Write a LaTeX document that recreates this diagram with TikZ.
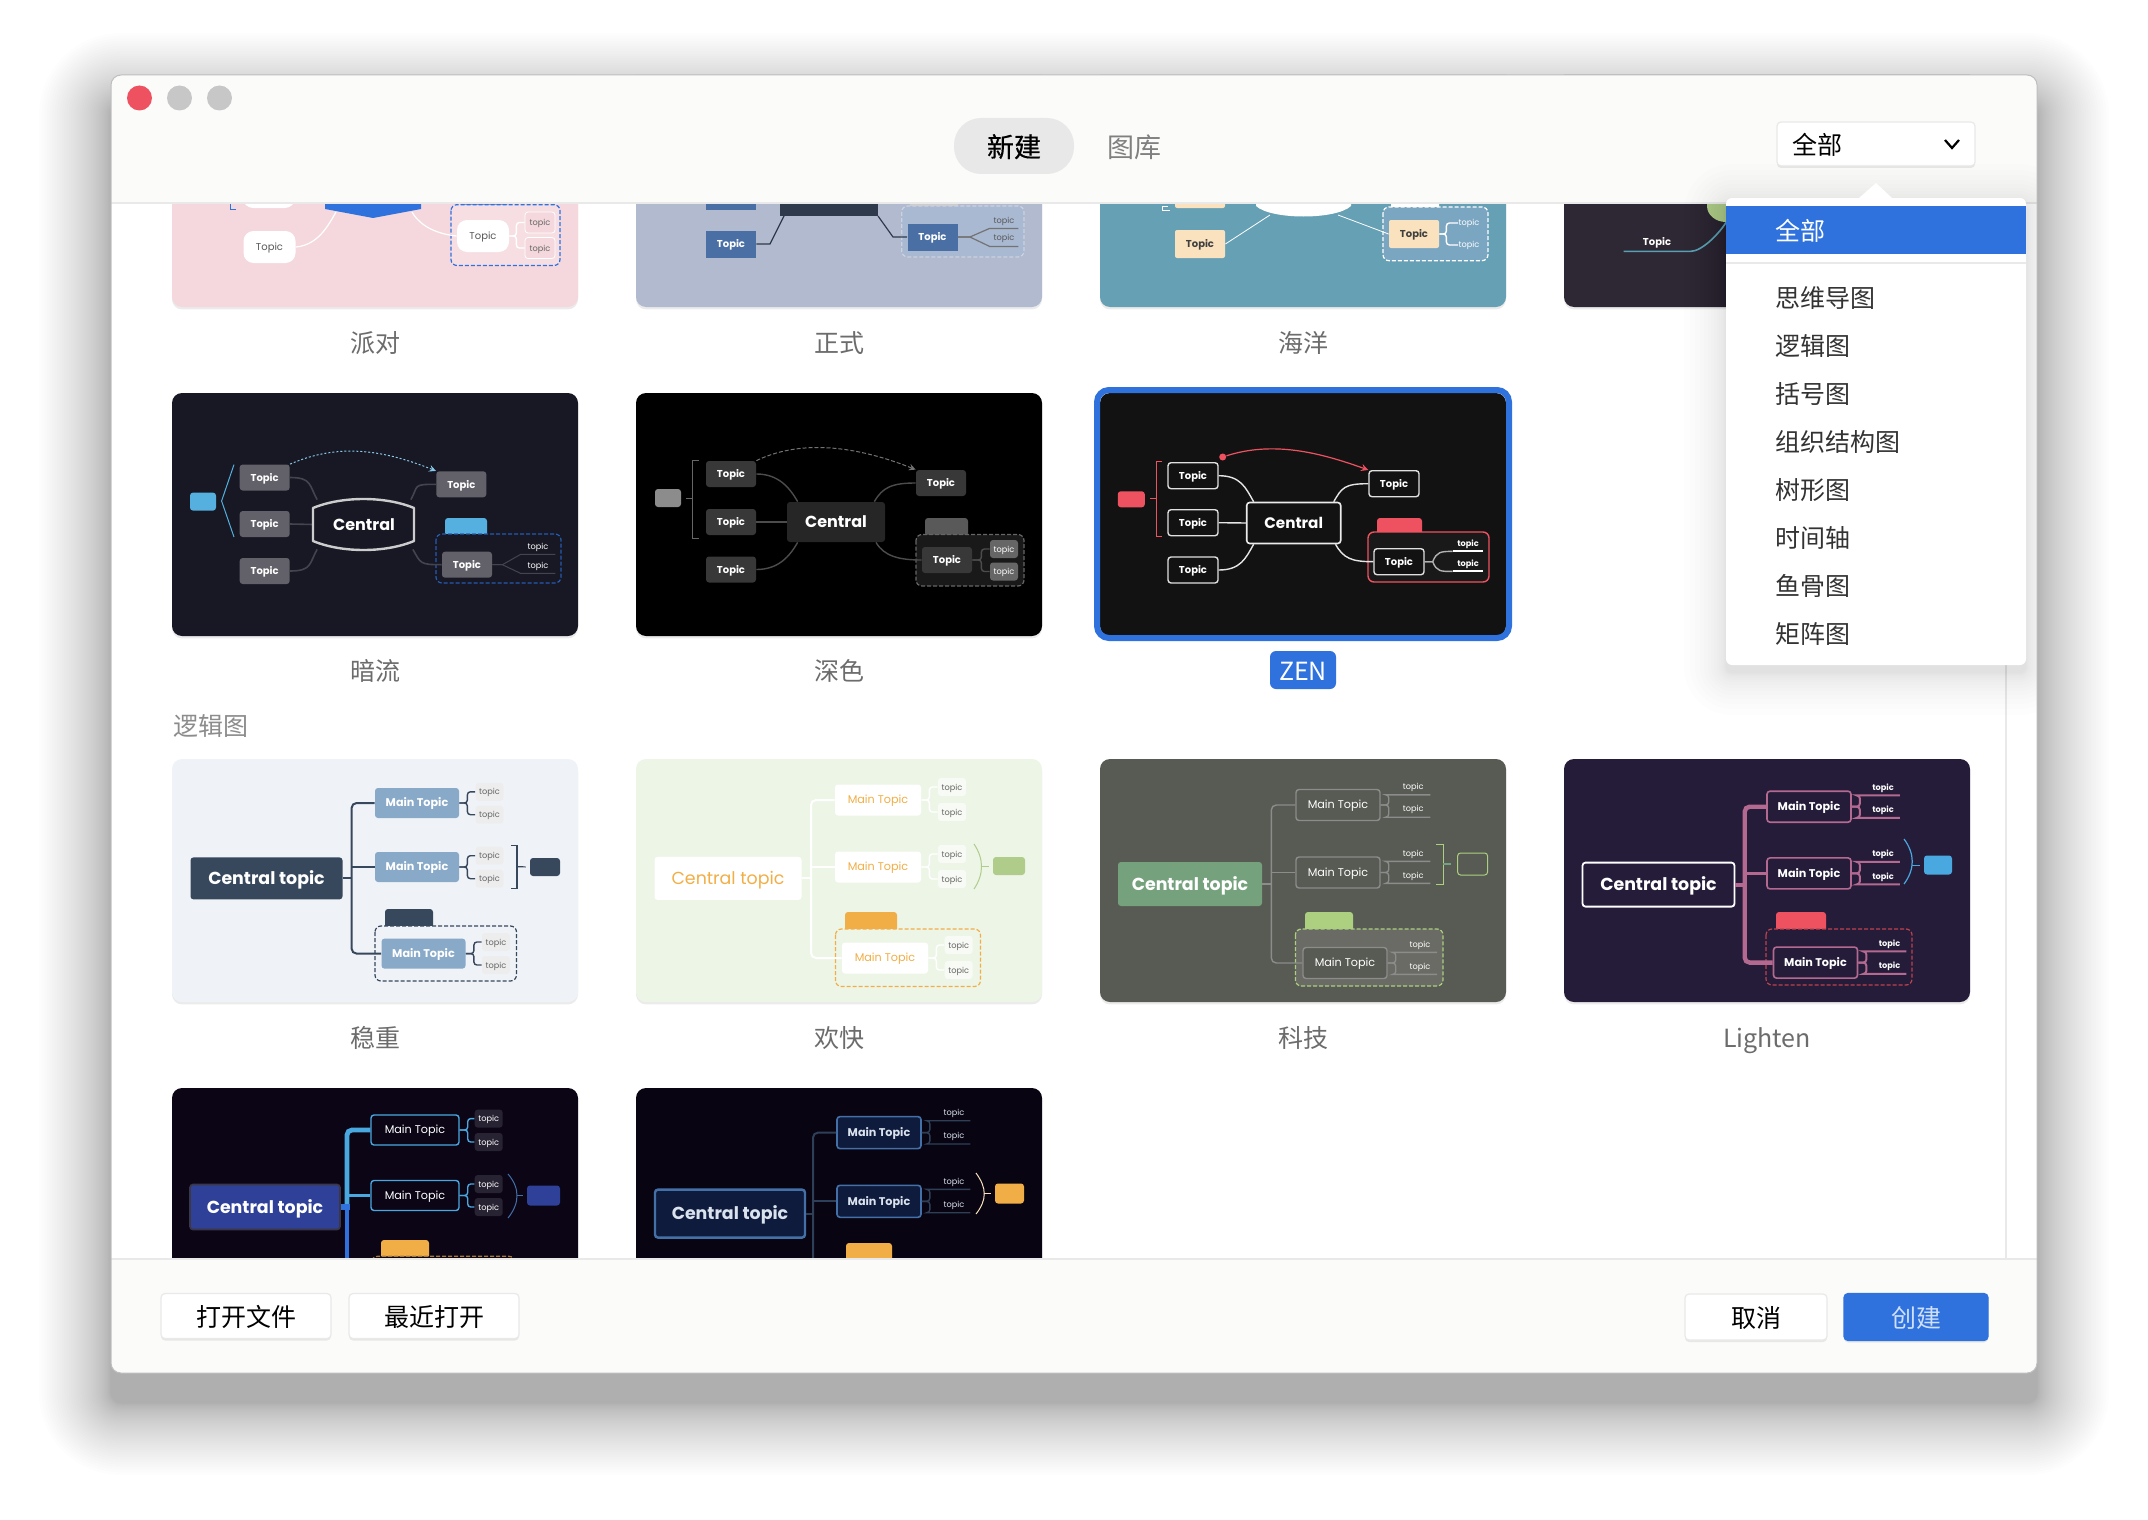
\documentclass[tikz,border=0pt]{standalone}
\usepackage{fontspec}
\setmainfont{Noto Sans CJK SC}
\newfontfamily\tabfont[FakeBold=0.5]{Noto Sans CJK SC}
\newfontfamily\thumbfont{Poppins}
\usetikzlibrary{arrows}
\usetikzlibrary{shapes}
\usetikzlibrary{shadows}
\definecolor{uiBlue}{HTML}{2F72DE}
\definecolor{uiBar}{HTML}{FBFBFA}
\definecolor{uiLine}{HTML}{E9E9E9}
\definecolor{uiCap}{HTML}{6C6C6C}
\definecolor{partyBg}{HTML}{F4D8DD}
\definecolor{formalBg}{HTML}{B1BACE}
\definecolor{formalBlue}{HTML}{4A6FA5}
\definecolor{formalDark}{HTML}{2F3A4C}
\definecolor{formalZone}{HTML}{A9B9D2}
\definecolor{oceanBg}{HTML}{66A0B4}
\definecolor{oceanTopic}{HTML}{F9E2BD}
\definecolor{oceanZone}{HTML}{7BA6C2}
\definecolor{briefBg}{HTML}{2D2833}
\definecolor{briefLine}{HTML}{5AA0B5}
\definecolor{flowBg}{HTML}{171824}
\definecolor{flowTopic}{HTML}{626169}
\definecolor{flowBlue}{HTML}{55B0E0}
\definecolor{zenBg}{HTML}{121212}
\definecolor{zenRed}{HTML}{EE5260}
\definecolor{steadyBg}{HTML}{EFF3F8}
\definecolor{steadyDark}{HTML}{37475C}
\definecolor{steadyMain}{HTML}{88A9C7}
\definecolor{happyBg}{HTML}{EDF5E7}
\definecolor{happyOrange}{HTML}{F2AE46}
\definecolor{happyGreen}{HTML}{B0CC8A}
\definecolor{techBg}{HTML}{585B53}
\definecolor{techGreen}{HTML}{75A27D}
\definecolor{techLine}{HTML}{8C8C8C}
\definecolor{techLime}{HTML}{ADD080}
\definecolor{lightenBg}{HTML}{251C3A}
\definecolor{lightenPink}{HTML}{B46A90}
\definecolor{nightBg}{HTML}{0B0516}
\definecolor{nightBlue}{HTML}{2F4098}
\definecolor{nightSky}{HTML}{4AA8E0}
\definecolor{navyFill}{HTML}{0F1B3D}
\definecolor{navyLine}{HTML}{4470A8}
\definecolor{navyLink}{HTML}{2D4058}

\begin{document}
\begin{tikzpicture}[x=0.5pt, y=-0.5pt, font=\fontsize{12.5}{15}\selectfont]
	\tikzstyle{cardStyle}=[rounded corners=5pt, drop shadow={shadow xshift=0pt, shadow yshift=-1.2pt, fill=black, opacity=.08}]
	\tikzstyle{centralStyle}=[shape = rectangle, rounded corners=1.5pt, inner sep = 0pt, minimum width = 76pt, minimum height = 21pt, text height=6.6pt, text depth=.3pt, font=\thumbfont\bfseries\fontsize{8.7}{10}\selectfont]
	\tikzstyle{hubStyle}=[centralStyle, text height=6.2pt, text depth=.3pt, font=\thumbfont\bfseries\fontsize{8}{9}\selectfont]
	\tikzstyle{topicStyle}=[shape = rectangle, rounded corners=1.5pt, inner sep = 0pt, minimum width = 25pt, minimum height = 13pt, text height=4pt, text depth=.3pt, font=\thumbfont\bfseries\fontsize{5}{6}\selectfont]
	\tikzstyle{mainStyle}=[shape = rectangle, rounded corners=1.5pt, inner sep = 0pt, minimum width = 42pt, minimum height = 15pt, text height=4.2pt, text depth=.3pt, font=\thumbfont\bfseries\fontsize{5.6}{6}\selectfont]
	\tikzstyle{subStyle}=[shape = rectangle, rounded corners=1.5pt, inner sep = 0pt, minimum width = 14pt, minimum height = 9pt, text height=3.2pt, text depth=.2pt, font=\thumbfont\fontsize{4.1}{5}\selectfont]
	\tikzstyle{tagStyle}=[shape = rectangle, rounded corners=1.5pt, inner sep = 0pt, minimum width = 13pt, minimum height = 9pt]
	\tikzstyle{calloutStyle}=[shape = rectangle, rounded corners=1.5pt, inner sep = 0pt, minimum width = 24pt, minimum height = 11pt]
	\tikzstyle{linkStyle}=[line width = 1pt, rounded corners=2.5pt]
	\tikzstyle{forkStyle}=[line width = .7pt, rounded corners=1.5pt]
	\tikzstyle{boundaryStyle}=[line width = .6pt, dash pattern=on 2pt off 1pt, rounded corners=3pt]
	\tikzstyle{buttonStyle}=[shape = rectangle, rounded corners=2pt, inner sep = 0pt, text height=11pt, text depth=1pt, fill=white, draw=uiLine, line width=.6pt, drop shadow={shadow xshift=0pt, shadow yshift=-1pt, fill=black, opacity=.08}]
	\tikzstyle{captionStyle}=[inner sep = 0pt, text height=11pt, text depth=1pt, text=uiCap]
	\tikzstyle{menuStyle}=[inner sep = 0pt, text height=11pt, text depth=1pt, anchor=west, text=black!80]
	\useasboundingbox (0,0) rectangle (2148,1520);
	\fill[white] (0,0) rectangle (2148,1520);
	\foreach \i [evaluate=\i as \r using 72*(\i/40)^1.5, evaluate=\i as \rr using 5+36*(\i/40)^1.5] in {1,...,40}
		\fill[black, opacity=.009, rounded corners=\rr pt] ({111-\r},{105-\r}) rectangle ({2037+\r},{1403+\r});
	\begin{scope}
	\clip[rounded corners=5pt] (111,75) rectangle (2037,1373);
	\fill[white] (111,75) rectangle (2037,1373);
	\draw[uiLine, line width=.6pt] (2006,203) -- (2006,1259);

	% row of mind maps behind the title bar
	\begin{scope}[shift={(172,64)}, name prefix=party-]
		\tikzstyle{topicStyle}=[shape = rectangle, rounded corners=5pt, inner sep = 0pt, minimum width = 26pt, minimum height = 16pt, text height=4pt, text depth=.3pt, fill=white, text=black!65, font=\thumbfont\fontsize{5}{6}\selectfont]
		\fill[cardStyle, fill=partyBg] (0,0) rectangle (406,243);
		\draw[uiBlue, line width=.5pt] (64,70) -- (58,70) -- (58,145) -- (64,145);
		\node[calloutStyle, fill=uiBlue] (call) at (312,131) {};
		\draw[boundaryStyle, draw=uiBlue, fill=partyBg!85!white] (279,140.7) rectangle (388,201.5);
		\node[topicStyle] (t1) at (97,128) {};
		\node[topicStyle] (t3) at (97.5,183) {Topic};
		\node[topicStyle] (r2) at (311,172) {Topic};
		\node[subStyle, draw=white, fill=partyBg, text=black!60, minimum width=15pt, minimum height=10.5pt] (s1) at (368,158.5) {topic};
		\node[subStyle, draw=white, fill=partyBg, text=black!60, minimum width=15pt, minimum height=10.5pt] (s2) at (368,184) {topic};
		\fill[uiBlue] (153,130) -- (249,130) -- (249,145) -- (201,154) -- (153,145) -- cycle;
		\coordinate (cl) at (164,148);
		\coordinate (cr) at (240,148);
		\draw[white, line width=.6pt] (t3.east) .. controls +(22,-2) and +(-8,14) .. (cl);
		\draw[white, line width=.6pt] (cr) .. controls +(8,14) and +(-20,-2) .. (r2.west);
		\draw[white, forkStyle] (r2.east) -- ++(7,0) |- (s1.west);
		\draw[white, forkStyle] (r2.east) -- ++(7,0) |- (s2.west);
	\end{scope}
	\begin{scope}[shift={(636,64)}, name prefix=formal-]
		\tikzstyle{topicStyle}=[shape = rectangle, inner sep = 0pt, minimum width = 25pt, minimum height = 13.5pt, text height=4pt, text depth=.3pt, fill=formalBlue, text=white, font=\thumbfont\bfseries\fontsize{5}{6}\selectfont]
		\fill[cardStyle, fill=formalBg] (0,0) rectangle (406,243);
		\node[calloutStyle, fill=black!20] (call) at (298,135) {};
		\draw[boundaryStyle, draw=white!35!formalBg, fill=formalZone] (265.7,142) rectangle (388,193);
		\node[topicStyle] (t1) at (95,132) {};
		\node[topicStyle] (t3) at (95,180) {Topic};
		\node[topicStyle] (r2) at (296.5,173) {Topic};
		\node[subStyle, text=black!65, minimum width=14pt, minimum height=8pt] (s1) at (368,156) {topic};
		\node[subStyle, text=black!65, minimum width=14pt, minimum height=8pt] (s2) at (368,174) {topic};
		\fill[formalDark] (144,130) rectangle (242,152);
		\coordinate (cl) at (148,152);
		\coordinate (cr) at (242,152);
		\draw[formalDark, line width=.6pt] (t3.east) -- (134,180) -- (cl);
		\draw[formalDark, line width=.6pt] (cr) -- (257,173) -- (r2.west);
		\draw[black!55, line width=.6pt] (r2.east) -- ++(12,0) -- (s1.south west) -- (s1.south east);
		\draw[black!55, line width=.6pt] (r2.east) -- ++(12,0) -- (s2.south west) -- (s2.south east);
	\end{scope}
	\begin{scope}[shift={(1100,64)}, name prefix=ocean-]
		\tikzstyle{topicStyle}=[shape = rectangle, rounded corners=1pt, inner sep = 0pt, minimum width = 25pt, minimum height = 14pt, text height=4pt, text depth=.3pt, fill=oceanTopic, text=black!75, font=\thumbfont\bfseries\fontsize{5}{6}\selectfont]
		\fill[cardStyle, fill=oceanBg] (0,0) rectangle (406,243);
		\draw[white, line width=.5pt] (68,142) -- (62,142) -- (62,146) -- (70,146);
		\node[calloutStyle, fill=white] (call) at (315,135) {};
		\draw[boundaryStyle, draw=white, fill=oceanZone] (283,143) rectangle (388,196.7);
		\node[topicStyle] (t1) at (100,130) {};
		\node[topicStyle] (t3) at (100,180) {Topic};
		\node[topicStyle] (r2) at (314,170) {Topic};
		\node[subStyle, text=white, minimum width=10pt] (s1) at (369,159) {topic};
		\node[subStyle, text=white, minimum width=10pt] (s2) at (369,181) {topic};
		\fill[white] (156,125) -- (251,125) -- (251,142) .. controls (236,156) and (171,156) .. (156,142) -- cycle;
		\coordinate (cl) at (170,151);
		\coordinate (cr) at (238,151);
		\draw[white, line width=.4pt] (t3.east) -- (cl);
		\draw[white, line width=.4pt] (cr) -- (r2.west);
		\draw[white, forkStyle] (r2.east) -- ++(7,0) |- (s1.west);
		\draw[white, forkStyle] (r2.east) -- ++(7,0) |- (s2.west);
	\end{scope}
	\begin{scope}[shift={(1564,64)}, name prefix=brief-]
		\fill[cardStyle, fill=briefBg] (0,0) rectangle (406,243);
		\node[subStyle, text=white, text height=4pt, font=\thumbfont\bfseries\fontsize{5}{6}\selectfont, minimum width=33pt] (t3) at (93,178) {Topic};
		\node[shape = ellipse, inner sep = 0pt, fill=happyGreen, minimum width=19pt, minimum height=16pt] (c) at (162,142) {};
		\draw[briefLine, line width=.8pt] (t3.south west) -- (t3.south east) .. controls +(12,0) and +(-6,10) .. (c.south);
	\end{scope}

	% second row
	\begin{scope}[shift={(172,393)}, name prefix=flow-, topicStyle/.append style={fill=flowTopic, text=white}, subStyle/.append style={text=white, minimum width=17pt, minimum height=8pt}]
		\fill[cardStyle, fill=flowBg] (0,0) rectangle (406,243);
		\node[tagStyle, fill=flowBlue] (tag) at (31,108.6) {};
		\draw[flowBlue, line width=.5pt] (62,71.6) -- (49.6,108) -- (62,144);
		\node[topicStyle] (t1) at (92.7,84.5) {Topic};
		\node[topicStyle] (t2) at (92.7,131) {Topic};
		\node[topicStyle] (t3) at (92.7,178) {Topic};
		\node[hubStyle, text=white, minimum width=50.5pt, minimum height=24.5pt] (c) at (192,131.5) {};
		\node[topicStyle] (r1) at (289.3,91.3) {Topic};
		\node[calloutStyle, fill=flowBlue, minimum width=21pt, minimum height=9pt] (call) at (294,134) {};
		\draw[boundaryStyle, draw=uiBlue!80!black, fill=flowBg] (264,141) rectangle (389,190);
		\node[topicStyle] (r2) at (295,171.7) {Topic};
		\node[subStyle] (s1) at (366,153) {topic};
		\node[subStyle] (s2) at (366,172) {topic};
		\draw[flowTopic!60!flowBg, line width=.8pt] (t1.east) .. controls +(22,0) and +(-8,-14) .. (c.152);
		\draw[flowTopic!60!flowBg, line width=.8pt] (t2.east) -- (c.west);
		\draw[flowTopic!60!flowBg, line width=.8pt] (t3.east) .. controls +(22,0) and +(-8,14) .. (c.208);
		\draw[flowTopic!60!flowBg, line width=.8pt] (c.28) .. controls +(8,-14) and +(-24,0) .. (r1.west);
		\draw[flowTopic!60!flowBg, line width=.8pt] (c.-27) .. controls +(8,14) and +(-22,0) .. (r2.west);
		\draw[flowTopic!60!flowBg, line width=.5pt] (r2.east) -- ++(10,0) -- (s1.south west) -- (s1.south east);
		\draw[flowTopic!60!flowBg, line width=.5pt] (r2.east) -- ++(10,0) -- (s2.south west) -- (s2.south east);
		\draw[black!20, fill=flowBg, line width=1.2pt, line join=round] (141,115) .. controls (170,103) and (213,103) .. (242,115) -- (242,148) .. controls (213,160) and (170,160) .. (141,148) -- cycle;
		\node[hubStyle, text=white, minimum width=0pt, minimum height=0pt] (ctext) at (192,131.5) {Central};
		\draw[flowBlue!70!white, line width=.5pt, dash pattern=on 1pt off 1pt, -stealth] (t1.north east) .. controls +(50,-22) and +(-50,-20) .. (r1.north west);
	\end{scope}
	\begin{scope}[shift={(636,393)}, name prefix=deep-, topicStyle/.append style={fill=black!78, text=white}, subStyle/.append style={fill=black!60, text=white}]
		\fill[cardStyle, fill=black] (0,0) rectangle (406,243);
		\node[tagStyle, fill=black!45] (tag) at (32,105) {};
		\draw[black!60, line width=.5pt] (63,67) -- (56,67) -- (56,145) -- (63,145);
		\draw[black!60, line width=.5pt] (56,105) -- (50,105);
		\node[topicStyle] (t1) at (95,81) {Topic};
		\node[topicStyle] (t2) at (95,129) {Topic};
		\node[topicStyle] (t3) at (95,176.5) {Topic};
		\node[hubStyle, fill=black!85, text=white, minimum width=49pt, minimum height=20pt] (c) at (200,129) {Central};
		\node[topicStyle] (r1) at (305,90) {Topic};
		\node[calloutStyle, fill=black!65, minimum width=21.5pt, minimum height=9pt] (call) at (310.5,134) {};
		\draw[boundaryStyle, draw=black!60, fill=black!90] (280,141.5) rectangle (388,193);
		\node[topicStyle] (r2) at (311,167) {Topic};
		\node[subStyle] (s1) at (368,156) {topic};
		\node[subStyle] (s2) at (368,178.5) {topic};
		\draw[black!70, line width=.7pt] (t1.east) .. controls +(22,0) and +(-8,-14) .. (c.152);
		\draw[black!70, line width=.7pt] (t2.east) -- (c.west);
		\draw[black!70, line width=.7pt] (t3.east) .. controls +(22,0) and +(-8,14) .. (c.208);
		\draw[black!70, line width=.7pt] (c.28) .. controls +(8,-14) and +(-24,0) .. (r1.west);
		\draw[black!70, line width=.7pt] (c.-27) .. controls +(8,14) and +(-22,0) .. (r2.west);
		\draw[black!70, forkStyle] (r2.east) -- ++(9,0) |- (s1.west);
		\draw[black!70, forkStyle] (r2.east) -- ++(9,0) |- (s2.west);
		\draw[black!55, line width=.5pt, dash pattern=on 2pt off 1pt, -stealth] (t1.north east) .. controls +(50,-24) and +(-50,-20) .. (r1.north west);
	\end{scope}
	\begin{scope}[shift={(1100,393)}, name prefix=zen-, topicStyle/.append style={fill=zenBg, draw=black!12, line width=.7pt, text=white}, subStyle/.append style={text=white, font=\thumbfont\bfseries\fontsize{4.1}{5}\selectfont, minimum width=15pt, minimum height=8pt}]
		\fill[cardStyle, fill=zenBg] (0,0) rectangle (406,243);
		\draw[uiBlue, line width=3pt, rounded corners=6pt] (-3,-3) rectangle (409,245);
		\node[tagStyle, fill=zenRed, minimum width=13.5pt, minimum height=8pt] (tag) at (31.3,106.3) {};
		\draw[zenRed, line width=.5pt] (62,68) -- (56,68) -- (56,143) -- (62,143);
		\draw[zenRed, line width=.5pt] (56,105.7) -- (50,105.7);
		\node[topicStyle] (t1) at (93,82.7) {Topic};
		\node[topicStyle] (t2) at (93,129.7) {Topic};
		\node[topicStyle] (t3) at (93,177) {Topic};
		\node[hubStyle, fill=zenBg, draw=black!8, line width=.8pt, text=white, minimum width=47pt, minimum height=20.5pt, font=\thumbfont\bfseries\fontsize{7.6}{9}\selectfont] (c) at (193.7,130) {Central};
		\node[topicStyle] (r1) at (294,90.7) {Topic};
		\node[calloutStyle, fill=zenRed, minimum width=22.5pt, minimum height=9pt] (call) at (299.5,134) {};
		\draw[zenRed, line width=.7pt, rounded corners=3pt, fill=black!90] (268,139) rectangle (389,189);
		\node[topicStyle] (r2) at (299,168.7) {Topic};
		\node[subStyle] (s1) at (368,150) {topic};
		\node[subStyle] (s2) at (368,170) {topic};
		\draw[black!10, line width=.7pt] (t1.east) .. controls +(22,0) and +(-8,-14) .. (c.152);
		\draw[black!10, line width=.7pt] (t2.east) -- (c.west);
		\draw[black!10, line width=.7pt] (t3.east) .. controls +(22,0) and +(-8,14) .. (c.208);
		\draw[black!10, line width=.7pt] (c.28) .. controls +(8,-14) and +(-24,0) .. (r1.west);
		\draw[black!10, line width=.7pt] (c.-27) .. controls +(8,14) and +(-22,0) .. (r2.west);
		\draw[black!30, line width=.7pt] (r2.east) -- ++(8,0) .. controls +(4,-10) and +(-12,0) .. (s1.south west);
		\draw[black!30, line width=.7pt] (r2.east) -- ++(8,0) .. controls +(4,10) and +(-12,0) .. (s2.south west);
		\draw[white, line width=1pt] (s1.south west) -- (s1.south east);
		\draw[white, line width=1pt] (s2.south west) -- (s2.south east);
		\node[circle, fill=zenRed, inner sep=0pt, minimum size=3.5pt] (relDot) at (122.7,64) {};
		\draw[zenRed, line width=.6pt, -stealth] (relDot) .. controls +(50,-16) and +(-50,-18) .. (r1.north west);
	\end{scope}

	% logic charts
	\begin{scope}[shift={(172,759)}, name prefix=steady-, mainStyle/.append style={fill=steadyMain, text=white}, subStyle/.append style={fill=black!7, text=black!60}, linkStyle/.append style={draw=steadyDark}, forkStyle/.append style={draw=steadyDark}]
		\fill[cardStyle, fill=steadyBg] (0,0) rectangle (406,243);
		\node[centralStyle, fill=steadyDark, text=white] (c) at (94.5,119.4) {Central topic};
		\node[mainStyle] (m1) at (245,44) {Main Topic};
		\node[mainStyle] (m2) at (245,108) {Main Topic};
		\node[calloutStyle, fill=steadyDark] (call) at (237,161) {};
		\draw[boundaryStyle, draw=steadyDark, fill=steadyBg] (203,167) rectangle (344.5,222);
		\node[mainStyle] (m3) at (251.5,194.6) {Main Topic};
		\node[subStyle] (s1) at (317.5,32.8) {topic};
		\node[subStyle] (s2) at (317.5,55.7) {topic};
		\node[subStyle] (s3) at (317.5,96.7) {topic};
		\node[subStyle] (s4) at (317.5,119.7) {topic};
		\node[subStyle] (s5) at (324,183) {topic};
		\node[subStyle] (s6) at (324,206) {topic};
		\node[tagStyle, fill=steadyDark, minimum width=15pt] (tag) at (373,108) {};
		\coordinate (trunk) at (179.6,0);
		\draw[linkStyle] (c.east) -- (trunk |- c.east);
		\draw[linkStyle] (m1.west) -| (trunk |- m2.west) |- (m3.west);
		\draw[linkStyle] (m2.west) -- (trunk |- m2.west);
		\draw[forkStyle] (m1.east) -- ++(8,0) |- (s1.west);
		\draw[forkStyle] (m1.east) -- ++(8,0) |- (s2.west);
		\draw[forkStyle] (m2.east) -- ++(8,0) |- (s3.west);
		\draw[forkStyle] (m2.east) -- ++(8,0) |- (s4.west);
		\draw[forkStyle] (m3.east) -- ++(8,0) |- (s5.west);
		\draw[forkStyle] (m3.east) -- ++(8,0) |- (s6.west);
		\draw[steadyDark, line width=.6pt] (339,86.3) -- (345,86.3) -- (345,129.4) -- (339,129.4);
		\draw[steadyDark, line width=.6pt, shorten <=2pt] (tag.west) -- (345,107.7);
	\end{scope}
	\begin{scope}[shift={(636,759)}, name prefix=happy-, mainStyle/.append style={fill=white, text=happyOrange, font=\thumbfont\fontsize{5.6}{6}\selectfont, minimum width=43pt, minimum height=15.5pt}, subStyle/.append style={fill=white!60!happyBg, text=black!60}, linkStyle/.append style={draw=white}, forkStyle/.append style={draw=white}]
		\fill[cardStyle, fill=happyBg] (0,0) rectangle (406,243);
		\node[centralStyle, fill=white, text=happyOrange, font=\thumbfont\fontsize{8.7}{10}\selectfont, minimum width=73.5pt, minimum height=21.5pt] (c) at (92,119.4) {Central topic};
		\node[mainStyle] (m1) at (242,41) {Main Topic};
		\node[mainStyle] (m2) at (242,108) {Main Topic};
		\node[calloutStyle, fill=happyOrange, minimum width=26pt] (call) at (235,164) {};
		\draw[boundaryStyle, draw=happyOrange, fill=happyBg] (199.5,170) rectangle (344.5,227.5);
		\node[mainStyle] (m3) at (249,199) {Main Topic};
		\node[subStyle] (s1) at (316,28) {topic};
		\node[subStyle] (s2) at (316,53) {topic};
		\node[subStyle] (s3) at (316,95) {topic};
		\node[subStyle] (s4) at (316,120) {topic};
		\node[subStyle] (s5) at (322.7,186) {topic};
		\node[subStyle] (s6) at (322.7,211) {topic};
		\node[tagStyle, fill=happyGreen, minimum width=16pt] (tag) at (373,107) {};
		\coordinate (trunk) at (175,0);
		\draw[linkStyle] (c.east) -- (trunk |- c.east);
		\draw[linkStyle] (m1.west) -| (trunk |- m2.west) |- (m3.west);
		\draw[linkStyle] (m2.west) -- (trunk |- m2.west);
		\draw[forkStyle] (m1.east) -- ++(8,0) |- (s1.west);
		\draw[forkStyle] (m1.east) -- ++(8,0) |- (s2.west);
		\draw[forkStyle] (m2.east) -- ++(8,0) |- (s3.west);
		\draw[forkStyle] (m2.east) -- ++(8,0) |- (s4.west);
		\draw[forkStyle] (m3.east) -- ++(8,0) |- (s5.west);
		\draw[forkStyle] (m3.east) -- ++(8,0) |- (s6.west);
		\draw[happyGreen, line width=.5pt] (338,85) .. controls (348,100) and (348,115) .. (338,130);
		\draw[happyGreen, line width=.5pt, shorten <=2pt] (tag.west) -- (345.5,107);
	\end{scope}
	\begin{scope}[shift={(1100,759)}, name prefix=tech-, mainStyle/.append style={fill=techBg, draw=techLine, line width=.7pt, text=white, font=\thumbfont\fontsize{5.6}{6}\selectfont, minimum height=15.5pt}, subStyle/.append style={text=white, minimum width=20.5pt, minimum height=8pt, execute at begin node=\hspace*{3.8pt}}, linkStyle/.append style={draw=techLine, line width=.7pt}, forkStyle/.append style={draw=techLine}]
		\fill[cardStyle, fill=techBg] (0,0) rectangle (406,243);
		\node[centralStyle, fill=techGreen, text=white, minimum width=72pt, minimum height=22pt] (c) at (90,125) {Central topic};
		\node[mainStyle] (m1) at (238,46) {Main Topic};
		\node[mainStyle] (m2) at (238,113.5) {Main Topic};
		\node[calloutStyle, fill=techLime] (call) at (229,164) {};
		\draw[boundaryStyle, draw=techLime, fill=techBg!90!white] (195.4,170) rectangle (343,227);
		\node[mainStyle] (m3) at (245,204) {Main Topic};
		\node[subStyle] (s1) at (309.5,27.4) {topic};
		\node[subStyle] (s2) at (309.5,49.8) {topic};
		\node[subStyle] (s3) at (309.5,94) {topic};
		\node[subStyle] (s4) at (309.5,116) {topic};
		\node[subStyle] (s5) at (316.2,185) {topic};
		\node[subStyle] (s6) at (316.2,207) {topic};
		\node[tagStyle, draw=techLime, line width=.5pt, minimum width=15pt, minimum height=11pt] (tag) at (372.6,105) {};
		\coordinate (trunk) at (171.3,0);
		\draw[linkStyle] (c.east) -- (trunk |- c.east);
		\draw[linkStyle] (m1.west) -| (trunk |- m2.west) |- (m3.west);
		\draw[linkStyle] (m2.west) -- (trunk |- m2.west);
		\draw[forkStyle] (m1.east) -- ++(8,0) |- (s1.south west) -- (s1.south east);
		\draw[forkStyle] (m1.east) -- ++(8,0) |- (s2.south west) -- (s2.south east);
		\draw[forkStyle] (m2.east) -- ++(8,0) |- (s3.south west) -- (s3.south east);
		\draw[forkStyle] (m2.east) -- ++(8,0) |- (s4.south west) -- (s4.south east);
		\draw[forkStyle] (m3.east) -- ++(8,0) |- (s5.south west) -- (s5.south east);
		\draw[forkStyle] (m3.east) -- ++(8,0) |- (s6.south west) -- (s6.south east);
		\draw[techLime, line width=.5pt] (336,85) -- (343,85) -- (343,125) -- (336,125);
		\draw[techGreen, line width=.6pt, shorten <=3pt] (tag.west) -- (343,105);
	\end{scope}
	\begin{scope}[shift={(1564,759)}, name prefix=lighten-, mainStyle/.append style={fill=lightenBg, draw=lightenPink, line width=.8pt, text=white, minimum height=15.5pt}, subStyle/.append style={text=white, font=\thumbfont\bfseries\fontsize{4.1}{5}\selectfont, minimum width=20.5pt, minimum height=8pt, execute at begin node=\hspace*{4pt}}, linkStyle/.append style={draw=lightenPink, line width=1.4pt}, forkStyle/.append style={draw=lightenPink, line width=1pt}]
		\fill[cardStyle, fill=lightenBg] (0,0) rectangle (406,243);
		\node[centralStyle, fill=lightenBg, draw=white, line width=.9pt, text=white, minimum width=76pt, minimum height=22pt] (c) at (94.5,125.6) {Central topic};
		\node[mainStyle] (m1) at (245,47.7) {Main Topic};
		\node[mainStyle] (m2) at (245,114.4) {Main Topic};
		\node[calloutStyle, fill=zenRed, minimum width=25pt] (call) at (237,164) {};
		\draw[boundaryStyle, draw=zenRed!80!black, fill=lightenBg] (202,170) rectangle (348,226);
		\node[mainStyle] (m3) at (251.5,203.6) {Main Topic};
		\node[subStyle] (s1) at (315,28) {topic};
		\node[subStyle] (s2) at (315,50.4) {topic};
		\node[subStyle] (s3) at (315,94.5) {topic};
		\node[subStyle] (s4) at (315,117) {topic};
		\node[subStyle] (s5) at (321.5,184) {topic};
		\node[subStyle] (s6) at (321.5,206.5) {topic};
		\node[tagStyle, fill=nightSky, minimum width=14pt, minimum height=9.5pt] (tag) at (374,106) {};
		\coordinate (trunk) at (180.7,0);
		\draw[linkStyle, line width=2pt] (c.east) -- (trunk |- c.east);
		\draw[linkStyle, line width=2.2pt] (m1.west) -| (trunk |- m2.west) |- (m3.west);
		\draw[linkStyle] (m2.west) -- (trunk |- m2.west);
		\draw[forkStyle] (m1.east) -- ++(8,0) |- (s1.south west) -- (s1.south east);
		\draw[forkStyle] (m1.east) -- ++(8,0) |- (s2.south west) -- (s2.south east);
		\draw[forkStyle] (m2.east) -- ++(8,0) |- (s3.south west) -- (s3.south east);
		\draw[forkStyle] (m2.east) -- ++(8,0) |- (s4.south west) -- (s4.south east);
		\draw[forkStyle] (m3.east) -- ++(8,0) |- (s5.south west) -- (s5.south east);
		\draw[forkStyle] (m3.east) -- ++(8,0) |- (s6.south west) -- (s6.south east);
		\draw[nightSky, line width=.6pt] (340,80) .. controls (351,95) and (351,110) .. (340,125);
		\draw[nightSky, line width=.5pt, shorten <=2pt] (tag.west) -- (348,106);
	\end{scope}

	% last row runs under the footer
	\begin{scope}[shift={(172,1088)}, name prefix=night-, mainStyle/.append style={fill=nightBg, draw=nightSky, line width=.7pt, text=white, font=\thumbfont\fontsize{5.6}{6}\selectfont, minimum width=44pt}, subStyle/.append style={fill=white!12!nightBg, text=white}, forkStyle/.append style={draw=nightSky}]
		\fill[cardStyle, fill=nightBg] (0,0) rectangle (406,243);
		\node[centralStyle, fill=nightBlue, draw=white!20!nightBg, line width=.8pt, text=white, minimum width=75pt, minimum height=22.5pt] (c) at (93,119) {Central topic};
		\node[mainStyle] (m1) at (243,42) {Main Topic};
		\node[mainStyle] (m2) at (243,107.5) {Main Topic};
		\node[calloutStyle, fill=happyOrange] (call) at (233,163) {};
		\draw[boundaryStyle, draw=happyOrange!70!black, fill=nightBg] (199.5,168.3) rectangle (343,240);
		\node[subStyle] (s1) at (316.7,30.6) {topic};
		\node[subStyle] (s2) at (316.7,54) {topic};
		\node[subStyle] (s3) at (316.7,96) {topic};
		\node[subStyle] (s4) at (316.7,119) {topic};
		\node[tagStyle, fill=nightBlue, minimum width=16.5pt, minimum height=10pt] (tag) at (371.5,107.5) {};
		\coordinate (trunk) at (175,0);
		\coordinate (tail) at (175,190);
		\draw[nightSky, line width=2.4pt, rounded corners=2.5pt] (m1.west) -| (trunk |- m2.west) -- (trunk |- c.east);
		\draw[nightSky, line width=1.2pt] (m2.west) -- (trunk |- m2.west);
		\draw[uiBlue, line width=2.4pt] (trunk |- c.east) -- (tail);
		\node[shape = rectangle, inner sep = 0pt, fill=uiBlue, minimum width=4.5pt, minimum height=3pt] (knob) at (173.5,118.6) {};
		\draw[forkStyle] (m1.east) -- ++(8,0) |- (s1.west);
		\draw[forkStyle] (m1.east) -- ++(8,0) |- (s2.west);
		\draw[forkStyle] (m2.east) -- ++(8,0) |- (s3.west);
		\draw[forkStyle] (m2.east) -- ++(8,0) |- (s4.west);
		\draw[navyLine, line width=.5pt] (336,86) .. controls (348,100) and (348,115) .. (336,130);
		\draw[navyLine, line width=.5pt, shorten <=2pt] (tag.west) -- (345,107.5);
	\end{scope}
	\begin{scope}[shift={(636,1088)}, name prefix=navy-, mainStyle/.append style={fill=navyFill, draw=navyLine, line width=.8pt, text=white!80!navyLine, minimum height=16pt}, subStyle/.append style={text=white!80!navyLine, minimum width=20.5pt, minimum height=8pt, execute at begin node=\hspace*{4.5pt}}, linkStyle/.append style={draw=navyLink}, forkStyle/.append style={draw=navyLink}]
		\fill[cardStyle, fill=nightBg!80!black] (0,0) rectangle (406,243);
		\node[centralStyle, fill=navyFill, draw=navyLine, line width=1.2pt, text=white!80!navyLine, minimum width=75pt, minimum height=24pt] (c) at (94,125.6) {Central topic};
		\node[mainStyle] (m1) at (243,44.6) {Main Topic};
		\node[mainStyle] (m2) at (243,113.3) {Main Topic};
		\node[calloutStyle, fill=happyOrange, minimum width=23pt] (call) at (233,166) {};
		\draw[boundaryStyle, draw=happyOrange, fill=nightBg] (205,171) rectangle (343,240);
		\node[subStyle] (s1) at (313.5,24.3) {topic};
		\node[subStyle] (s2) at (313.5,47.6) {topic};
		\node[subStyle] (s3) at (313.5,93) {topic};
		\node[subStyle] (s4) at (313.5,116.3) {topic};
		\node[tagStyle, fill=happyOrange, minimum width=14.5pt, minimum height=10pt] (tag) at (373.5,105.5) {};
		\coordinate (trunk) at (177,0);
		\coordinate (tail) at (177,190);
		\draw[linkStyle] (c.east) -- (trunk |- c.east);
		\draw[linkStyle] (m1.west) -| (trunk |- m2.west) -- (tail);
		\draw[linkStyle] (m2.west) -- (trunk |- m2.west);
		\draw[forkStyle] (m1.east) -- ++(8,0) |- (s1.south west) -- (s1.south east);
		\draw[forkStyle] (m1.east) -- ++(8,0) |- (s2.south west) -- (s2.south east);
		\draw[forkStyle] (m2.east) -- ++(8,0) |- (s3.south west) -- (s3.south east);
		\draw[forkStyle] (m2.east) -- ++(8,0) |- (s4.south west) -- (s4.south east);
		\draw[oceanTopic, line width=.5pt] (340,85) .. controls (351,100) and (351,112) .. (340,126);
		\draw[oceanTopic, line width=.5pt, shorten <=2pt] (tag.west) -- (348,105.5);
	\end{scope}

	% captions
	\node[captionStyle] (capParty) at (375,342) {派对};
	\node[captionStyle] (capFormal) at (839,342) {正式};
	\node[captionStyle] (capOcean) at (1303,342) {海洋};
	\node[captionStyle] (capFlow) at (375,670) {暗流};
	\node[captionStyle] (capDeep) at (839,670) {深色};
	\node[shape = rectangle, rounded corners=3pt, inner sep = 0pt, text height=11pt, text depth=1pt, minimum width = 33pt, minimum height = 19pt, fill=uiBlue, text=white] (capZen) at (1303,670) {ZEN};
	\node[captionStyle, text=black!45] (secLogic) at (211,725) {逻辑图};
	\node[captionStyle] (capSteady) at (375,1037) {稳重};
	\node[captionStyle] (capHappy) at (839,1037) {欢快};
	\node[captionStyle] (capTech) at (1303,1037) {科技};
	\node[captionStyle] (capLighten) at (1767,1037) {Lighten};

	% title bar and footer
	\fill[uiBar] (111,75) rectangle (2037,203);
	\draw[uiLine, line width=1pt] (111,203) -- (2037,203);
	\fill[uiBar] (111,1259) rectangle (2037,1373);
	\draw[uiLine, line width=.8pt] (111,1259) -- (2037,1259);
	\fill[zenRed] (139.5,98) circle (12.5);
	\fill[black!22] (179.5,98) circle (12.5);
	\fill[black!22] (219.5,98) circle (12.5);
	\node[shape = rectangle, rounded corners=13.5pt, inner sep = 0pt, text height=12pt, text depth=1pt, minimum width = 60pt, minimum height = 28pt, fill=black!9, font=\tabfont\fontsize{13.5}{15}\selectfont] (tabNew) at (1014,146) {新建};
	\node[inner sep = 0pt, text height=12pt, text depth=1pt, text=black!50, font=\fontsize{13.5}{15}\selectfont] (tabLib) at (1134,146) {图库};
	\node[buttonStyle, minimum width = 99pt, minimum height = 22pt] (selectAll) at (1876,144) {};
	\node[inner sep = 0pt, text height=11pt, text depth=1pt, anchor=west] (selectText) at (1792,145) {全部};
	\draw[black, line width=1.1pt] (1945,140) -- (1952,148) -- (1959,140);
	\node[buttonStyle, minimum width = 85pt, minimum height = 22.5pt] (btnOpen) at (246,1316) {打开文件};
	\node[buttonStyle, minimum width = 85pt, minimum height = 22.5pt] (btnRecent) at (434,1316) {最近打开};
	\node[buttonStyle, minimum width = 71pt, minimum height = 23pt] (btnCancel) at (1756,1317) {取消};
	\node[buttonStyle, minimum width = 72pt, minimum height = 23.5pt, fill=uiBlue, draw=uiBlue, text=white!78!uiBlue] (btnCreate) at (1916,1317) {创建};

	% drop down
	\foreach \r [evaluate=\r as \rr using \r*.5+3] in {0,1,2,3,5,7,9,12,15,18,22,26,31,36,42}
		\fill[black, opacity=.009, rounded corners=\rr pt] ({1726-\r},{198-\r+8}) rectangle ({2026+\r},{665+\r+8});
	\fill[white] (1859,198) -- (1876,183) -- (1892,198) -- cycle;
	\fill[white, rounded corners=3pt] (1726,198) rectangle (2026,665);
	\fill[uiBlue] (1726,206) rectangle (2026,254);
	\fill[uiLine] (1726,261.5) rectangle (2026,264);
	\node[menuStyle, text=white] (itemAll) at (1775,230) {全部};
	\node[menuStyle] (itemMind) at (1775,297) {思维导图};
	\node[menuStyle] (itemLogic) at (1775,345) {逻辑图};
	\node[menuStyle] (itemBrace) at (1775,393) {括号图};
	\node[menuStyle] (itemOrg) at (1775,441) {组织结构图};
	\node[menuStyle] (itemTree) at (1775,489) {树形图};
	\node[menuStyle] (itemTime) at (1775,537) {时间轴};
	\node[menuStyle] (itemFish) at (1775,585) {鱼骨图};
	\node[menuStyle] (itemMatrix) at (1775,633) {矩阵图};
	\end{scope}
	\draw[black!25, line width=.5pt, rounded corners=5pt] (111,75) rectangle (2037,1373);
\end{tikzpicture}
\end{document}
